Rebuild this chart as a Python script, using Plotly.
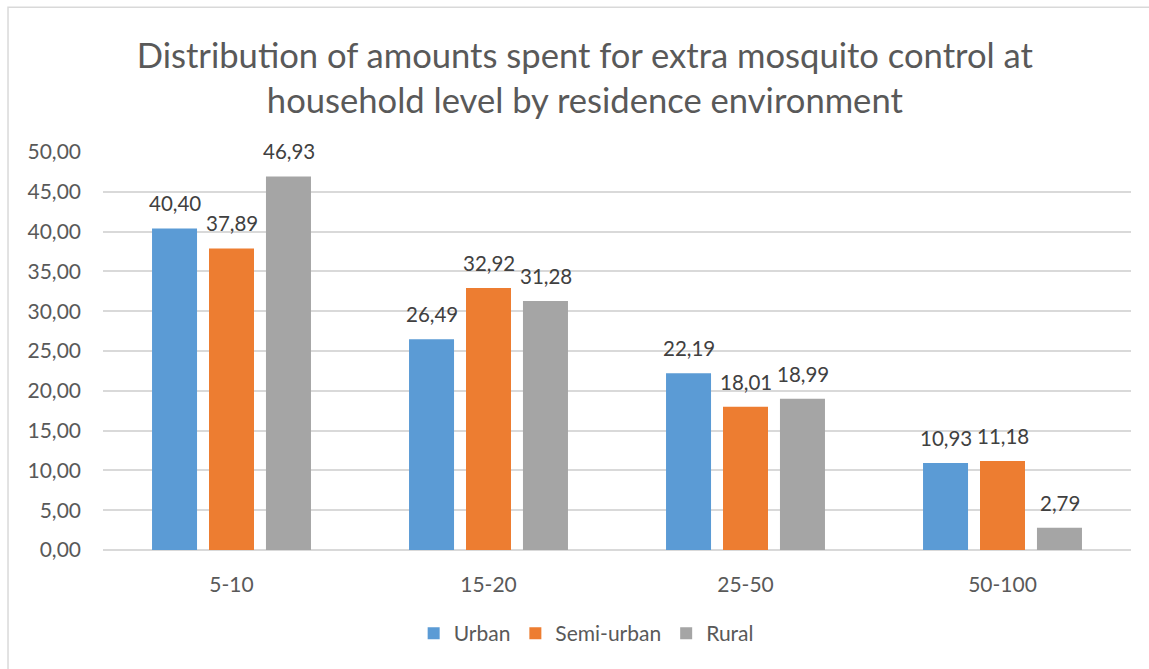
import plotly.graph_objects as go

categories = ["5-10", "15-20", "25-50", "50-100"]
urban = [40.40, 26.49, 22.19, 10.93]
semi_urban = [37.89, 32.92, 18.01, 11.18]
rural = [46.93, 31.28, 18.99, 2.79]
series_names = ["Urban", "Semi-urban", "Rural"]
series_colors = ["#5B9BD5", "#ED7D31", "#A5A5A5"]
y_ticks = [0, 5, 10, 15, 20, 25, 30, 35, 40, 45, 50]

FONT = "Lato"
TEXT_GREY = "#595959"
GRID = "#D9D9D9"

fig = go.Figure()
all_series = [urban, semi_urban, rural]
for name, vals, col in zip(series_names, all_series, series_colors):
    fig.add_trace(go.Bar(
        x=categories, y=vals, name=name,
        marker=dict(color=col, line=dict(width=0)),
    ))

# value labels above each bar, shifted to the bar's slot in its group
slot_px = 57
for i, vals in enumerate(all_series):
    for cat, v in zip(categories, vals):
        fig.add_annotation(
            x=cat, y=v, text=f"{v:.2f}".replace(".", ","),
            showarrow=False, xshift=(i - 1) * slot_px, yshift=11,
            yanchor="bottom", xanchor="center",
            font=dict(family=FONT, size=20.5, color="#404040"),
        )

# outer chart frame
fig.add_shape(type="rect", xref="paper", yref="paper",
              x0=-0.0924, x1=1.2, y0=-0.6, y1=1.364,
              line=dict(color=GRID, width=1.5), layer="below")

fig.update_layout(
    width=1149, height=669,
    margin=dict(l=103, r=18, t=152, b=119),
    paper_bgcolor="white", plot_bgcolor="white",
    separators=",.",
    barmode="group", bargap=0.335, bargroupgap=0.21,
    title=dict(
        text="Distribution of amounts spent for extra mosquito control at<br>household level by residence environment",
        x=0.509, xanchor="center", y=0.899, yanchor="middle",
        font=dict(family=FONT, size=34.6, color=TEXT_GREY),
    ),
    font=dict(family=FONT, size=21, color=TEXT_GREY),
    legend=dict(orientation="h", x=0.47, xanchor="center", y=-0.21, yanchor="middle",
                font=dict(family=FONT, size=21, color=TEXT_GREY),
                itemwidth=30, traceorder="normal"),
    xaxis=dict(showgrid=False, showline=False, ticks="", ticklabelstandoff=20,
               tickfont=dict(family=FONT, size=21, color=TEXT_GREY)),
    yaxis=dict(range=[0, 50], tickvals=y_ticks, tickformat=".2f",
               showgrid=True, gridcolor=GRID, gridwidth=1.5,
               zeroline=True, zerolinecolor=GRID, zerolinewidth=1.5,
               showline=False, ticks="", ticklabelstandoff=21,
               tickfont=dict(family=FONT, size=21, color=TEXT_GREY)),
)

fig.write_html("out.html")
